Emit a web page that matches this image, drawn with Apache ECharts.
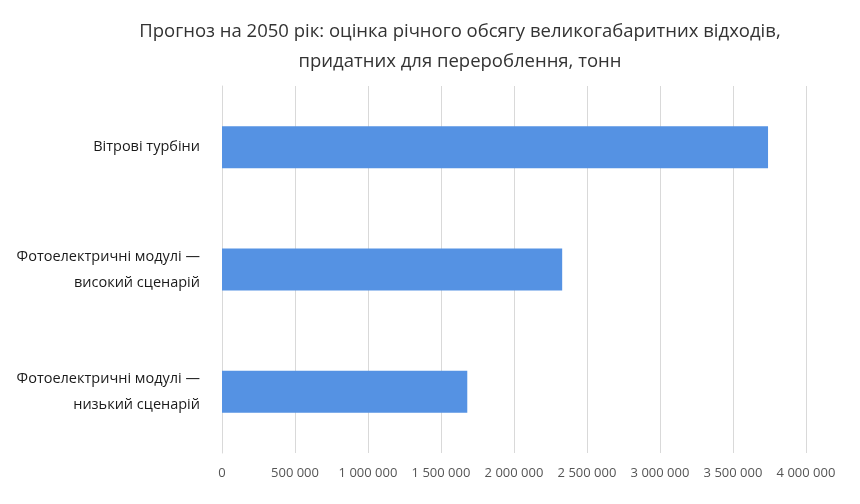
<!DOCTYPE html>
<html><head><meta charset="utf-8">
<script src="https://cdn.jsdelivr.net/npm/echarts@6/dist/echarts.min.js"></script>
<style>html,body{margin:0;padding:0;background:#fff}#c{width:860px;height:504px}</style>
</head><body><div id="c"></div>
<script>
const categories = ["Фотоелектричні модулі —\nнизький сценарій", "Фотоелектричні модулі —\nвисокий сценарій", "Вітрові турбіни"];
const values = [1680000, 2330000, 3740000];
const titleText = "Прогноз на 2050 рік: оцінка річного обсягу великогабаритних відходів,\nпридатних для перероблення, тонн";
const fmt = v => String(v).replace(/\B(?=(\d{3})+(?!\d))/g, " ");
const chart = echarts.init(document.getElementById('c'));
chart.setOption({
  animation:false,
  title:{text:titleText,left:455,textAlign:'center',top:12,textStyle:{fontFamily:'Open Sans',fontSize:18.5,fontWeight:'normal',color:'#333',lineHeight:30}},
  grid:{left:222,right:54,top:86,bottom:51},
  xAxis:{type:'value',min:0,max:4000000,interval:500000,
    axisLabel:{formatter:fmt,fontFamily:'Open Sans',fontSize:13,color:'#555',margin:14},
    splitLine:{lineStyle:{color:'#d9d9d9'}},axisLine:{show:false},axisTick:{show:false}},
  yAxis:{type:'category',data:categories,
    axisLabel:{fontFamily:'Open Sans',fontSize:14.5,color:'#1a1a1a',lineHeight:26,margin:22,align:'right'},
    axisLine:{lineStyle:{color:'#d9d9d9'}},axisTick:{show:false}},
  series:[{type:'bar',data:values,barWidth:42,itemStyle:{color:'#5592e3'}}]
});
</script></body></html>
